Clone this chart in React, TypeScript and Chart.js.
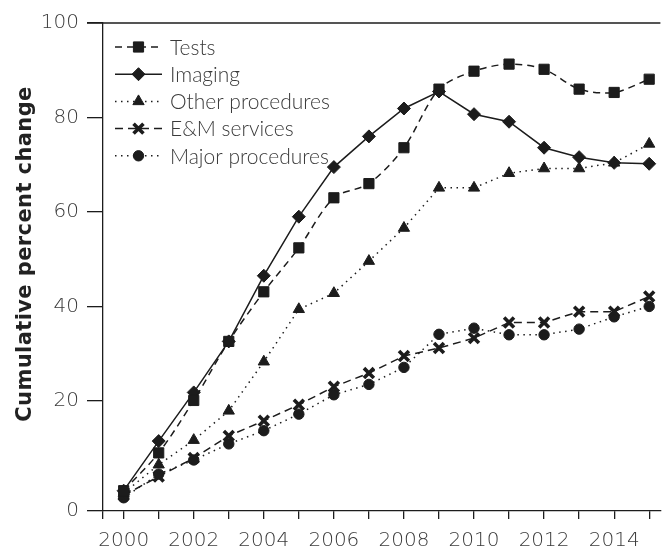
import React, { useEffect, useRef } from "react";
import { Chart, registerables } from "chart.js";
import { drawPoint } from "chart.js/helpers";

Chart.register(...registerables);

// ---- data ----
const years = [2000, 2001, 2002, 2003, 2004, 2005, 2006, 2007, 2008, 2009, 2010, 2011, 2012, 2013, 2014, 2015];
const tests = [1, 9, 20.1, 32.6, 43.1, 52.4, 63, 66, 73.6, 86, 89.8, 91.3, 90.2, 86, 85.3, 88.1];
const imaging = [1, 11.5, 21.8, 32.6, 46.5, 59, 69.5, 76, 81.9, 85.5, 80.7, 79.1, 73.6, 71.6, 70.4, 70.2];
const otherProcedures = [0.5, 6.5, 11.7, 17.9, 28.3, 39.4, 42.8, 49.6, 56.6, 65.1, 65.1, 68.2, 69.2, 69.2, 70.4, 74.4];
const emServices = [0, 4, 7.9, 12.6, 15.8, 19.2, 23, 25.9, 29.5, 31.2, 33.3, 36.6, 36.6, 38.9, 38.9, 42.1];
const majorProcedures = [-0.5, 4.5, 7.5, 10.9, 13.7, 17.2, 21.3, 23.5, 27.1, 34.1, 35.4, 34, 34, 35.2, 37.8, 40];
const seriesNames = ["Tests", "Imaging", "Other procedures", "E&M services", "Major procedures"];
const yTickValues = [0, 20, 40, 60, 80, 100];
const xLabelYears = [2000, 2002, 2004, 2006, 2008, 2010, 2012, 2014];
const yAxisTitle = "Cumulative percent change";

const INK = "#1c1c1c";
const TEXT = "#3a3a3a";
const LIGHT_FONT = "'Lato', 'Noto Sans', sans-serif";
const TICK_FONT = "'DejaVu Sans', sans-serif";
const Y_MIN = -3.3;
const X_MIN = 1999.41;
const X_MAX = 2015.32;

const styles = [
  { pointStyle: "rect", radius: 7.2, dash: [7, 5], tension: 0.3, bw: 1 },
  { pointStyle: "rectRot", radius: 6.5, dash: [], tension: 0, bw: 1 },
  { pointStyle: "triangle", radius: 6.5, dash: [1.5, 4.5], tension: 0, bw: 1 },
  { pointStyle: "crossRot", radius: 7, dash: [8, 5], tension: 0, bw: 3.6 },
  { pointStyle: "circle", radius: 5.2, dash: [1.5, 4.5], tension: 0, bw: 1 },
];

const allSeries = [tests, imaging, otherProcedures, emServices, majorProcedures];

const framePlugin = {
  id: "frame",
  afterDraw(chart: any) {
    const ctx = chart.ctx;
    const { left, right, top, bottom } = chart.chartArea;
    const y = chart.scales.y;
    ctx.save();
    ctx.strokeStyle = INK;
    ctx.lineWidth = 1.3;
    // top border at 100
    const y100 = y.getPixelForValue(100);
    ctx.beginPath();
    ctx.moveTo(left - 16, y100);
    ctx.lineTo(right, y100);
    ctx.stroke();

    // y-axis title
    ctx.fillStyle = "#222";
    ctx.font = "bold 21px 'DejaVu Sans', sans-serif";
    try { (ctx as any).letterSpacing = "0.4px"; } catch (e) {}
    ctx.textAlign = "center";
    ctx.textBaseline = "middle";
    ctx.translate(26, (top + bottom) / 2 - 13);
    ctx.rotate(-Math.PI / 2);
    ctx.fillText(yAxisTitle, 0, 0);
    try { (ctx as any).letterSpacing = "0px"; } catch (e) {}
    ctx.restore();

    // legend
    ctx.save();
    const lx0 = left + 12;
    const lx1 = left + 59;
    chart.data.datasets.forEach((ds: any, i: number) => {
      const st = styles[i];
      const yy = top + 24 + i * 27.2;
      ctx.save();
      ctx.strokeStyle = INK;
      ctx.lineWidth = 1.5;
      ctx.setLineDash(st.dash);
      ctx.beginPath();
      ctx.moveTo(lx0, yy);
      ctx.lineTo(lx1, yy);
      ctx.stroke();
      ctx.restore();
      ctx.save();
      ctx.fillStyle = INK;
      ctx.strokeStyle = INK;
      ctx.lineWidth = st.bw;
      drawPoint(ctx, { pointStyle: st.pointStyle, radius: st.radius, rotation: 0, borderWidth: st.bw } as any, (lx0 + lx1) / 2, yy);
      ctx.restore();
      ctx.fillStyle = TEXT;
      ctx.font = "300 21px " + LIGHT_FONT;
      ctx.textAlign = "left";
      ctx.textBaseline = "middle";
      ctx.fillText(ds.label, lx1 + 8, yy + 1);
    });
    ctx.restore();
  },
};

export default function App() {
  const ref = useRef<HTMLCanvasElement | null>(null);
  useEffect(() => {
    document.body.style.margin = "0";
    const canvas = ref.current!;
    const datasets = allSeries.map((vals, i) => ({
      label: seriesNames[i],
      data: years.map((yr, j) => ({ x: yr, y: vals[j] })),
      borderColor: INK,
      backgroundColor: INK,
      borderWidth: 1.5,
      borderDash: styles[i].dash,
      tension: styles[i].tension,
      pointStyle: styles[i].pointStyle,
      pointRadius: styles[i].radius,
      pointBackgroundColor: INK,
      pointBorderColor: INK,
      pointBorderWidth: styles[i].bw,
      fill: false,
    }));
    const chart = new Chart(canvas, {
      type: "line",
      data: { datasets } as any,
      options: {
        responsive: false,
        animation: false,
        layout: { padding: { top: 23, right: 0, left: 0, bottom: 0 } },
        plugins: { legend: { display: false }, tooltip: { enabled: false }, title: { display: false } },
        scales: {
          x: {
            type: "linear",
            min: X_MIN,
            max: X_MAX,
            afterBuildTicks: (scale: any) => {
              scale.ticks = [X_MIN, ...years].map((v) => ({ value: v }));
            },
            afterFit: (scale: any) => {
              scale.height = 37;
            },
            grid: { display: true, drawOnChartArea: false, drawTicks: true, tickLength: 8, color: INK, lineWidth: 1.3 },
            border: { display: true, color: INK, width: 1.3 },
            ticks: {
              autoSkip: false,
              maxRotation: 0,
              padding: 10,
              color: TEXT,
              font: { family: TICK_FONT, size: 20, weight: "200" as any },
              callback: (v: any) => (xLabelYears.includes(Number(v)) ? String(v) : ""),
            },
          },
          y: {
            type: "linear",
            min: Y_MIN,
            max: 100,
            afterBuildTicks: (scale: any) => {
              scale.ticks = [Y_MIN, ...yTickValues.slice(1)].map((v) => ({ value: v }));
            },
            afterFit: (scale: any) => {
              scale.width = 103;
            },
            grid: { display: true, drawOnChartArea: false, drawTicks: true, tickLength: 16, color: INK, lineWidth: 1.3 },
            border: { display: true, color: INK, width: 1.3 },
            ticks: {
              padding: 8,
              color: TEXT,
              font: { family: TICK_FONT, size: 20, weight: "200" as any },
              callback: (v: any) => (Number(v) < 0 ? "0" : String(v)),
            },
          },
        },
      },
      plugins: [framePlugin],
    } as any);
    return () => chart.destroy();
  }, []);
  return <canvas ref={ref} width={671} height={548} style={{ display: "block" }} />;
}
